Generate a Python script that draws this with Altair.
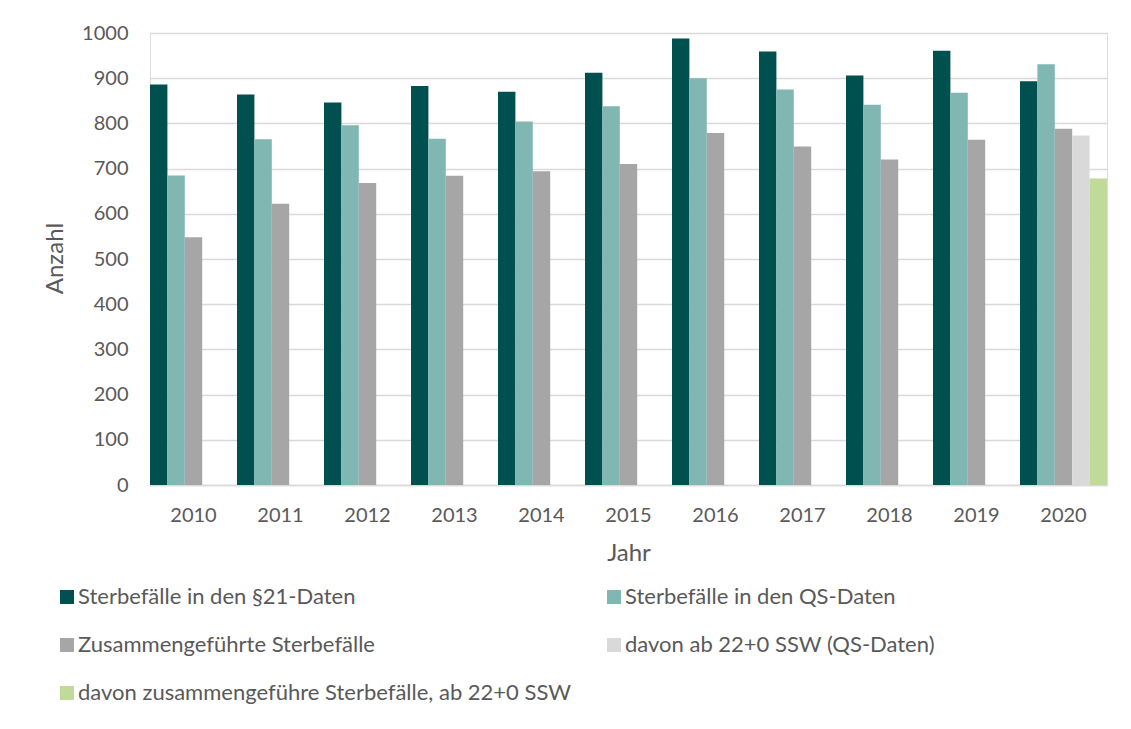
import altair as alt
import pandas as pd

years = ["2010", "2011", "2012", "2013", "2014", "2015", "2016", "2017", "2018", "2019", "2020"]
s21 = [886, 864, 846, 883, 870, 912, 988, 959, 906, 961, 893]
qs = [685, 765, 796, 766, 804, 838, 900, 875, 841, 868, 931]
merged = [548, 622, 668, 684, 694, 710, 779, 749, 720, 764, 788]
qs22_years = ["2020"]
qs22 = [773]
merged22_years = ["2020"]
merged22 = [678]

series = [
    "Sterbefälle in den §21-Daten",
    "Sterbefälle in den QS-Daten",
    "Zusammengeführte Sterbefälle",
    "davon ab 22+0 SSW (QS-Daten)",
    "davon zusammengeführe Sterbefälle, ab 22+0 SSW",
]
colors = ["#005050", "#80b7b3", "#a6a6a6", "#d9d9d9", "#c0da99"]

rows = []
for ys, vals, name in [(years, s21, series[0]), (years, qs, series[1]), (years, merged, series[2]),
                       (qs22_years, qs22, series[3]), (merged22_years, merged22, series[4])]:
    for y, v in zip(ys, vals):
        rows.append({"Jahr": y, "Wert": v, "Serie": name})
df = pd.DataFrame(rows)

FONT = "Lato"

chart = alt.Chart(df).mark_bar().encode(
    x=alt.X("Jahr:N", sort=years,
            scale=alt.Scale(paddingInner=0, paddingOuter=0),
            axis=alt.Axis(title="Jahr", labelAngle=0, labelFontSize=20, labelColor="#595959",
                          labelPadding=30, ticks=False, domainColor="#d9d9d9", domainWidth=1.5,
                          titleFontSize=24, titleColor="#595959", titleFontWeight="normal",
                          titleY=56, titleBaseline="top", titleFont=FONT, labelFont=FONT,
                          labelBaseline="middle")),
    xOffset=alt.XOffset("Serie:N", sort=series, scale=alt.Scale(domain=series, paddingInner=0, paddingOuter=0)),
    y=alt.Y("Wert:Q", scale=alt.Scale(domain=[0, 1000]),
            axis=alt.Axis(title="Anzahl", values=list(range(0, 1001, 100)), format="d",
                          labelFontSize=20,
                          labelColor="#595959", labelPadding=22, ticks=False, domain=False,
                          gridColor="#d9d9d9", gridWidth=1.5,
                          titleFontSize=24, titleColor="#595959", titleFontWeight="normal",
                          titleX=-95, titleY=225, titleAngle=-90, titleBaseline="middle",
                          titleAlign="center", titleFont=FONT, labelFont=FONT)),
    color=alt.Color("Serie:N", sort=series, scale=alt.Scale(domain=series, range=colors),
                    legend=alt.Legend(title=None, orient="none", legendX=-94, legendY=553,
                                      direction="horizontal", padding=0,
                                      columns=2, symbolType="square", symbolSize=196,
                                      symbolStrokeWidth=0, labelFontSize=22, labelColor="#595959",
                                      labelFont=FONT, labelLimit=700, rowPadding=26,
                                      columnPadding=31, labelOffset=0)),
).properties(
    width=957, height=452,
    autosize=alt.AutoSizeParams(type="none"),
    padding={"left": 142, "top": 25, "right": 16, "bottom": 236},
).configure_view(stroke=None).configure(font=FONT, background="white")

chart.save("out.html", embed_options={"renderer": "svg", "actions": False})
